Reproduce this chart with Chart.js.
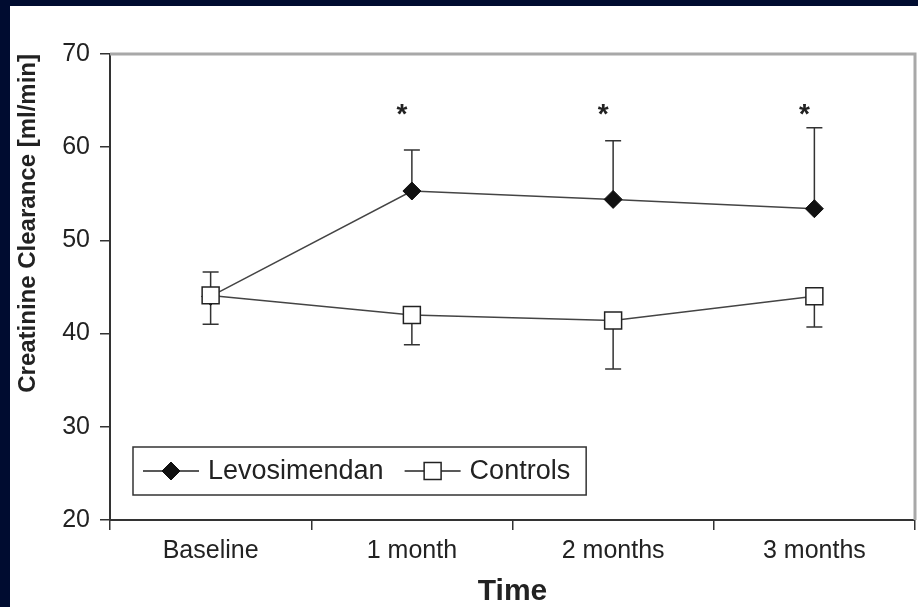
<!DOCTYPE html>
<html>
<head>
<meta charset="utf-8">
<script src="https://cdn.jsdelivr.net/npm/chart.js@4/dist/chart.umd.min.js"></script>
<style>
  html, body { margin: 0; padding: 0; background: #000c30; }
  #frame { position: absolute; left: 10px; top: 6px; width: 908px; height: 601px; background: #fff; }
  canvas { display: block; }
</style>
</head>
<body>
<div id="frame"><canvas id="chart" width="908" height="601"></canvas></div>
<script>
// creatinine clearance over follow-up, mean with one-sided SD bars
const timePoints = ['Baseline', '1 month', '2 months', '3 months'];
const levosimendan = [44.0, 55.3, 54.4, 53.4];
const levosimendanUpper = [46.6, 59.7, 60.7, 62.1];
const controls = [44.1, 42.0, 41.4, 44.0];
const controlsLower = [41.0, 38.8, 36.2, 40.7];
const significance = ['', '*', '*', '*'];
const starLevel = 64;
const yTicks = [20, 30, 40, 50, 60, 70];

const ink = '#222';
Chart.defaults.font.family = '"Liberation Sans", Arial, sans-serif';
Chart.defaults.color = ink;

// top and right border of the plot box
const plotFrame = {
  id: 'plotFrame',
  beforeDatasetsDraw(chart) {
    const { ctx, chartArea: a } = chart;
    ctx.save();
    ctx.strokeStyle = '#a8a8a8';
    ctx.lineWidth = 3;
    ctx.beginPath();
    ctx.moveTo(a.left, a.top);
    ctx.lineTo(a.right, a.top);
    ctx.lineTo(a.right, a.bottom);
    ctx.stroke();
    ctx.restore();
  }
};

const errorBars = {
  id: 'errorBars',
  beforeDatasetsDraw(chart) {
    const { ctx, scales: { x, y } } = chart;
    ctx.save();
    ctx.strokeStyle = '#333';
    ctx.lineWidth = 1.5;
    chart.data.datasets.forEach(ds => {
      ds.errorTo.forEach((v, i) => {
        const px = x.getPixelForValue(i);
        const y0 = y.getPixelForValue(ds.data[i]);
        const y1 = y.getPixelForValue(v);
        ctx.beginPath();
        ctx.moveTo(px, y0);
        ctx.lineTo(px, y1);
        ctx.moveTo(px - 8, y1);
        ctx.lineTo(px + 8, y1);
        ctx.stroke();
      });
    });
    ctx.restore();
  }
};

const stars = {
  id: 'stars',
  afterDatasetsDraw(chart) {
    const { ctx, scales: { x, y } } = chart;
    ctx.save();
    ctx.fillStyle = ink;
    ctx.font = 'bold 28px "Liberation Sans", Arial, sans-serif';
    ctx.textAlign = 'center';
    ctx.textBaseline = 'middle';
    significance.forEach((s, i) => {
      if (s) ctx.fillText(s, x.getPixelForValue(i) - 10, y.getPixelForValue(starLevel) + 5);
    });
    ctx.restore();
  }
};

// boxed legend in the lower left corner of the plot
const boxLegend = {
  id: 'boxLegend',
  afterDraw(chart) {
    const { ctx, chartArea: a } = chart;
    const left = a.left + 23, h = 48, top = a.bottom - 25 - h, mid = top + h / 2;
    ctx.save();
    ctx.font = '27px "Liberation Sans", Arial, sans-serif';
    ctx.textBaseline = 'middle';
    let cx = left + 10;
    const items = [];
    chart.data.datasets.forEach(ds => {
      items.push({ ds, x: cx });
      cx += 56 + 9 + ctx.measureText(ds.label).width + 21;
    });
    const right = cx - 21 + 16;
    ctx.fillStyle = '#fff';
    ctx.fillRect(left, top, right - left, h);
    ctx.strokeStyle = '#333';
    ctx.lineWidth = 1.5;
    ctx.strokeRect(left, top, right - left, h);
    items.forEach(({ ds, x }) => {
      ctx.strokeStyle = '#222';
      ctx.lineWidth = 1.5;
      ctx.beginPath();
      ctx.moveTo(x, mid);
      ctx.lineTo(x + 56, mid);
      ctx.stroke();
      ctx.fillStyle = ds.pointBackgroundColor;
      ctx.strokeStyle = ds.pointBorderColor;
      ctx.lineWidth = ds.pointBorderWidth;
      ctx.beginPath();
      if (ds.pointStyle === 'rectRot') {
        const r = ds.pointRadius;
        ctx.moveTo(x + 28, mid - r);
        ctx.lineTo(x + 28 + r, mid);
        ctx.lineTo(x + 28, mid + r);
        ctx.lineTo(x + 28 - r, mid);
        ctx.closePath();
      } else {
        const s = ds.pointRadius * Math.SQRT1_2;
        ctx.rect(x + 28 - s, mid - s, 2 * s, 2 * s);
      }
      ctx.fill();
      ctx.stroke();
      ctx.fillStyle = ink;
      ctx.fillText(ds.label, x + 65, mid + 1);
    });
    ctx.restore();
  }
};

new Chart(document.getElementById('chart'), {
  type: 'line',
  data: {
    labels: timePoints,
    datasets: [
      {
        label: 'Levosimendan',
        data: levosimendan,
        errorTo: levosimendanUpper,
        borderColor: '#444',
        borderWidth: 1.5,
        pointStyle: 'rectRot',
        pointRadius: 9,
        pointBackgroundColor: '#111',
        pointBorderColor: '#111',
        pointBorderWidth: 1,
        order: 2
      },
      {
        label: 'Controls',
        data: controls,
        errorTo: controlsLower,
        borderColor: '#444',
        borderWidth: 1.5,
        pointStyle: 'rect',
        pointRadius: 12,
        pointBackgroundColor: '#fff',
        pointBorderColor: '#222',
        pointBorderWidth: 1.5,
        order: 1
      }
    ]
  },
  options: {
    responsive: false,
    animation: false,
    layout: { autoPadding: false, padding: { top: 48, right: 3 } },
    scales: {
      x: {
        offset: true,
        grid: { offset: true, drawOnChartArea: false, tickLength: 10, color: '#333', lineWidth: 1.5 },
        border: { color: '#333', width: 2 },
        ticks: { font: { size: 25 }, padding: 6, color: ink },
        title: { display: true, text: 'Time', font: { size: 30, weight: 'bold', lineHeight: 1 }, padding: { top: 4, bottom: 0 }, color: ink },
        afterFit(scale) {
          scale.height = 87;
          scale.paddingLeft = 0;
          scale.paddingRight = 0;
        }
      },
      y: {
        min: 20,
        max: 70,
        afterBuildTicks(scale) { scale.ticks = yTicks.map(v => ({ value: v })); },
        grid: { drawOnChartArea: false, tickLength: 10, color: '#333', lineWidth: 1.5 },
        border: { color: '#333', width: 2 },
        ticks: { font: { size: 25 }, padding: 10, color: ink },
        title: { display: true, text: 'Creatinine Clearance [ml/min]', align: 'end', font: { size: 24, weight: 'bold', lineHeight: 1 }, padding: { top: 6, bottom: 0 }, color: ink },
        afterFit(scale) { scale.width = 100; }
      }
    },
    plugins: {
      legend: { display: false },
      tooltip: { enabled: false }
    }
  },
  plugins: [plotFrame, errorBars, stars, boxLegend]
});
</script>
</body>
</html>
